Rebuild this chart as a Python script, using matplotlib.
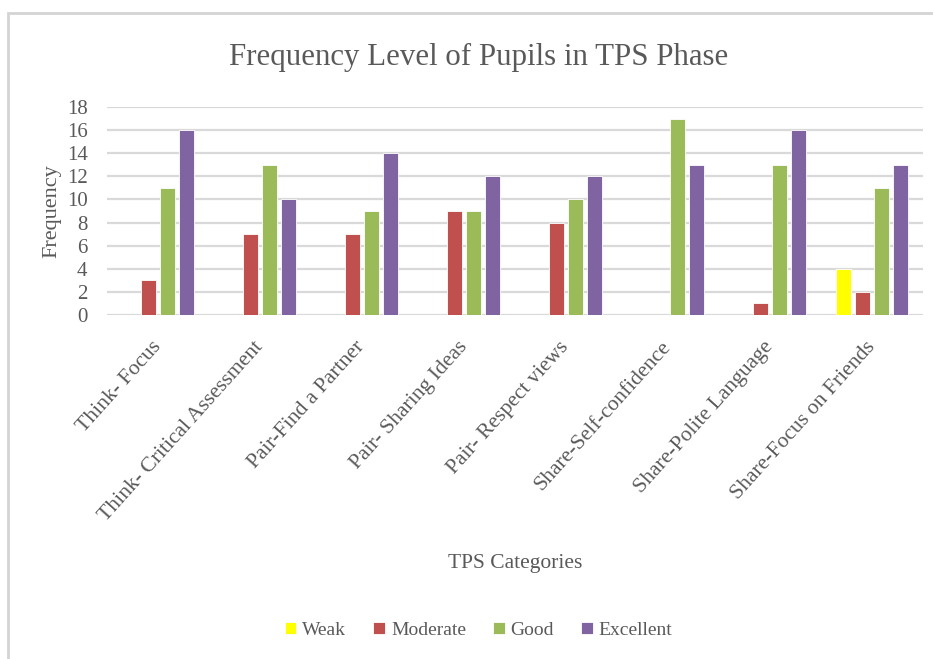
"""Frequency level of pupils in each TPS phase, grouped bar chart."""
import matplotlib
matplotlib.use("Agg")
import matplotlib.pyplot as plt
import numpy as np
from matplotlib.patches import Rectangle

# ── data ─────────────────────────────────────────────────────────────────
CATEGORIES = [
    "Think- Focus",
    "Think- Critical Assessment",
    "Pair-Find a Partner",
    "Pair- Sharing Ideas",
    "Pair- Respect views",
    "Share-Self-confidence",
    "Share-Polite Language",
    "Share-Focus on Friends",
]
SERIES = ["Weak", "Moderate", "Good", "Excellent"]
WEAK      = [0, 0, 0, 0, 0, 0, 0, 4]
MODERATE  = [3, 7, 7, 9, 8, 0, 1, 2]
GOOD      = [11, 13, 9, 9, 10, 17, 13, 11]
EXCELLENT = [16, 10, 14, 12, 12, 13, 16, 13]
Y_TICKS   = list(range(0, 19, 2))

COLORS = ["#FFFF00", "#C0504D", "#9BBB59", "#8064A2"]
TEXT   = "#595959"
GRID   = "#D9D9D9"
FONT   = "Liberation Serif"


def main() -> None:
    plt.rcParams["font.family"] = [FONT, "DejaVu Serif"]

    fig = plt.figure(figsize=(9.33, 6.59), dpi=100)
    ax = fig.add_axes([0.1147, 0.522, 0.8746, 0.3156])

    x = np.arange(len(CATEGORIES))
    step, width = 0.186, 0.145
    values = [WEAK, MODERATE, GOOD, EXCELLENT]
    for i, (name, vals, col) in enumerate(zip(SERIES, values, COLORS)):
        ax.bar(x + (i - 1.5) * step, vals, width, color=col, label=name,
               edgecolor="white", linewidth=0.6, zorder=3)

    ax.set_xlim(-0.5, 7.5)
    ax.set_ylim(0, 18)
    ax.set_yticks(Y_TICKS)
    ax.grid(axis="y", color=GRID, linewidth=1.6, zorder=0)
    for s in ax.spines.values():
        s.set_visible(False)
    ax.tick_params(axis="both", length=0, colors=TEXT, labelsize=15)
    ax.tick_params(axis="y", pad=14)
    ax.set_xticks(x)
    ax.set_xticklabels(CATEGORIES, rotation=48, ha="right", va="center",
                       rotation_mode="anchor", fontsize=15.6)
    ax.tick_params(axis="x", pad=21)

    ax.set_ylabel("Frequency", fontsize=16, color=TEXT, labelpad=4)
    fig.text(0.552, 0.145, "TPS Categories", fontsize=15.5, color=TEXT,
             ha="center", va="center")
    fig.text(0.513, 0.912, "Frequency Level of Pupils in TPS Phase",
             fontsize=22.2, color=TEXT, ha="center", va="center")

    leg = fig.legend(loc="center", bbox_to_anchor=(0.513, 0.043), ncol=4,
                     frameon=False, fontsize=14, handlelength=0.6,
                     handleheight=0.6, handletextpad=0.3, columnspacing=1.4)
    for t in leg.get_texts():
        t.set_color(TEXT)

    # outer frame (only left and top edges fall inside the picture)
    fig.add_artist(Rectangle((8 / 933, -0.01), 1.05, 1 - 13 / 659 + 0.01,
                             transform=fig.transFigure, fill=False,
                             edgecolor="#D4D4D4", linewidth=2.0))

    fig.savefig("out.png", dpi=100)
    plt.close(fig)


if __name__ == "__main__":
    main()
